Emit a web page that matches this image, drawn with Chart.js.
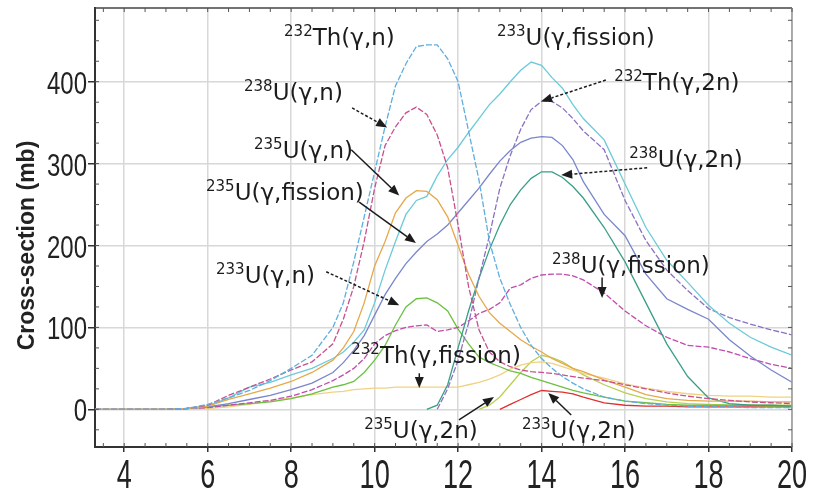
<!DOCTYPE html>
<html>
<head>
<meta charset="utf-8">
<script src="https://cdn.jsdelivr.net/npm/chart.js@4.4.1/dist/chart.umd.min.js"></script>
<style>
  html, body { margin: 0; padding: 0; background: #fff; }
  canvas { display: block; }
</style>
</head>
<body>
<canvas id="myChart" width="814" height="494"></canvas>
<script>
// photon energy (MeV) grid shared by all curves
let energy = [3.3, 5, 5.5, 6, 6.5, 7, 7.5, 8, 8.5, 9,
  9.25, 9.5, 9.75, 10, 10.25, 10.5, 10.75, 11, 11.25, 11.5,
  11.75, 12, 12.25, 12.5, 12.75, 13, 13.25, 13.5, 13.75, 14,
  14.25, 14.5, 14.75, 15, 15.5, 16, 16.5, 17, 17.5, 18,
  18.5, 19, 19.5, 20];

// cross-sections (mb), null = below threshold
let th232N = [0,0,1,6,14,23,35,50,66,100, 130,180,235,290,345,395,422,443,445,445,
  428,400,340,280,205,160,128,100,78,62, 50,40,32,25,15,10,7,5,4,3, 3,2,2,2];
let u238N = [0,0,1,5,17,27,37,48,58,80, 110,150,205,270,322,345,362,369,360,335,
  295,225,150,97,70,58,52,48,46,45, 44,42,40,38,35,30,25,20,16,13, 11,9,8,7];
let u235N = [0,0,1,4,12,19,26,34,45,60, 75,95,130,175,205,240,258,267,266,256,
  235,200,165,138,118,105,95,85,77,70, 62,56,50,46,36,27,18,13,11,10, 10,10,9,9];
let u233Fis = [0,0,1,4,14,27,33,42,50,62, 70,82,97,130,170,205,238,255,260,285,
  305,320,338,355,372,385,400,414,424,420, 405,392,372,355,329,275,222,182,155,127, 105,88,76,66];
let u235Fis = [0,0,1,3,7,12,17,24,32,45, 57,72,90,115,140,160,178,192,205,214,
  225,240,255,270,287,303,316,326,331,333, 332,322,305,278,238,212,165,135,122,110, 85,65,48,33];
let th232TwoN = [null,null,null,null,null,null,null,null,null,null, null,null,null,null,null,null,null,null,null,0,
  25,60,105,160,212,270,310,342,366,376, 376,368,355,340,317,255,206,170,145,123, 112,104,97,91];
let u238TwoN = [null,null,null,null,null,null,null,null,null,null, null,null,null,null,null,null,null,null,0,5,
  30,75,120,160,195,225,250,268,282,290, 290,283,272,258,222,180,130,80,40,14, 7,5,5,4];
let u238Fis = [0,0,1,2,5,8,11,16,24,35, 42,50,62,80,90,96,100,102,103,95,
  97,100,108,117,122,130,148,152,160,164, 165,165,163,158,142,120,102,88,78,76, 70,62,55,50];
let u233N = [0,0,1,3,5,7,9,13,19,27, 30,34,45,60,78,103,125,135,136,130,
  120,98,80,64,57,52,47,44,39,35, 31,27,23,20,15,10,8,6,5,5, 5,5,4,4];
let th232Fis = [0,0,0,1,3,6,10,14,18,21, 22,24,25,26,26,27,27,27,27,27,
  27,27,30,33,37,42,49,54,57,58, 56,52,48,44,38,31,26,22,19,17, 16,16,15,15];
let u235TwoN = [null,null,null,null,null,null,null,null,null,null, null,null,null,null,null,null,null,null,null,null,
  null,null,null,0,5,15,30,45,58,66, 63,58,50,42,30,20,13,9,7,6, 5,5,5,5];
let u233TwoN = [null,null,null,null,null,null,null,null,null,null, null,null,null,null,null,null,null,null,null,null,
  null,null,null,null,null,0,6,12,18,23, 22,21,19,15,8,5,4,4,3,3, 3,3,3,3];

let xTicks = [4, 6, 8, 10, 12, 14, 16, 18, 20];
let yTicks = [0, 100, 200, 300, 400];
let yTitle = "Cross-section (mb)";

let series = [
  { name: "232Th(γ,n)", values: th232N, color: "#5eaee0", dash: [6, 2] },
  { name: "238U(γ,n)", values: u238N, color: "#c8508e", dash: [6, 2] },
  { name: "235U(γ,n)", values: u235N, color: "#e6a84a", dash: [] },
  { name: "233U(γ,fission)", values: u233Fis, color: "#6ccad8", dash: [] },
  { name: "235U(γ,fission)", values: u235Fis, color: "#7a86cc", dash: [] },
  { name: "232Th(γ,2n)", values: th232TwoN, color: "#8a72c0", dash: [6, 2] },
  { name: "238U(γ,2n)", values: u238TwoN, color: "#3a9e88", dash: [] },
  { name: "238U(γ,fission)", values: u238Fis, color: "#c04cae", dash: [6, 2] },
  { name: "233U(γ,n)", values: u233N, color: "#6cc040", dash: [] },
  { name: "232Th(γ,fission)", values: th232Fis, color: "#f0d282", dash: [] },
  { name: "235U(γ,2n)", values: u235TwoN, color: "#b8d050", dash: [] },
  { name: "233U(γ,2n)", values: u233TwoN, color: "#e03030", dash: [] }
];

// labels on the plot: superscript mass number, reaction text, optional arrow
let notes = [
  { sup: "232", text: "Th(γ,n)", at: [7.83, 445] },
  { sup: "233", text: "U(γ,fission)", at: [12.93, 445] },
  { sup: "238", text: "U(γ,n)", at: [6.87, 378], from: [9.46, 368], to: [10.30, 344], dash: true },
  { sup: "235", text: "U(γ,n)", at: [7.11, 307], from: [9.44, 317], to: [10.59, 261] },
  { sup: "235", text: "U(γ,fission)", at: [5.96, 256], from: [9.63, 253], to: [10.99, 203] },
  { sup: "233", text: "U(γ,n)", at: [6.20, 154], from: [8.84, 168], to: [10.59, 127], dash: true },
  { sup: "232", text: "Th(γ,fission)", at: [9.44, 57], from: [11.07, 44], to: [11.07, 26] },
  { sup: "235", text: "U(γ,2n)", at: [9.75, -35], from: [12.02, -13], to: [12.86, 15] },
  { sup: "233", text: "U(γ,2n)", at: [13.53, -35], from: [14.71, -7], to: [14.16, 20] },
  { sup: "232", text: "Th(γ,2n)", at: [15.74, 390], from: [15.54, 402], to: [13.99, 376], dash: true },
  { sup: "238", text: "U(γ,2n)", at: [16.1, 296], from: [16.53, 295], to: [14.47, 286], dash: true },
  { sup: "238", text: "U(γ,fission)", at: [14.25, 166], from: [15.45, 161], to: [15.45, 136] }
];

function drawArrow(c, x0, y0, x1, y1, dashed) {
  let ang = Math.atan2(y1 - y0, x1 - x0);
  let len = 11, half = 4.5;
  c.setLineDash(dashed ? [3, 2] : []);
  c.beginPath();
  c.moveTo(x0, y0);
  c.lineTo(x1 - len * Math.cos(ang), y1 - len * Math.sin(ang));
  c.stroke();
  c.setLineDash([]);
  c.beginPath();
  c.moveTo(x1, y1);
  c.lineTo(x1 - len * Math.cos(ang) + half * Math.sin(ang), y1 - len * Math.sin(ang) - half * Math.cos(ang));
  c.lineTo(x1 - len * Math.cos(ang) - half * Math.sin(ang), y1 - len * Math.sin(ang) + half * Math.cos(ang));
  c.closePath();
  c.fill();
}

// narrow tick numbers: Arial-like glyphs squeezed sideways
function squeezedText(c, str, px, py, sx, align, base) {
  c.save();
  c.translate(px, py);
  c.scale(sx, 1);
  c.textAlign = align;
  c.textBaseline = base;
  c.fillText(str, 0, 0);
  c.restore();
}

let decor = {
  id: "decor",
  afterDatasetsDraw(chart) {
    let c = chart.ctx;
    let a = chart.chartArea;
    let x = chart.scales.x, y = chart.scales.y;
    c.save();

    // frame top / right
    c.strokeStyle = "#444";
    c.lineWidth = 1.5;
    c.beginPath();
    c.moveTo(a.left, a.top); c.lineTo(a.right, a.top);
    c.stroke();
    c.strokeStyle = "#999";
    c.beginPath();
    c.moveTo(a.right, a.top); c.lineTo(a.right, a.bottom);
    c.stroke();

    // minor ticks, inside the frame
    c.strokeStyle = "#555";
    c.lineWidth = 1;
    c.beginPath();
    for (let v = 3.5; v <= 20; v += 0.5) {
      let px = x.getPixelForValue(v);
      c.moveTo(px, a.bottom); c.lineTo(px, a.bottom - 4);
      c.moveTo(px, a.top); c.lineTo(px, a.top + 4);
    }
    for (let v = -25; v <= 475; v += 25) {
      let py = y.getPixelForValue(v);
      c.moveTo(a.left, py); c.lineTo(a.left + 4, py);
      c.moveTo(a.right, py); c.lineTo(a.right - 4, py);
    }
    c.stroke();

    // tick numbers
    c.fillStyle = "#222";
    c.font = "32px 'Liberation Sans', Arial, sans-serif";
    yTicks.forEach(v => {
      squeezedText(c, String(v), a.left - 8, y.getPixelForValue(v) + 12, 0.75, "right", "alphabetic");
    });
    c.font = "41px 'Liberation Sans', Arial, sans-serif";
    xTicks.forEach(v => {
      squeezedText(c, String(v), x.getPixelForValue(v), a.bottom + 41, 0.66, "center", "alphabetic");
    });

    // y axis title
    c.save();
    c.translate(28, (a.top + a.bottom) / 2 + 18);
    c.rotate(-Math.PI / 2);
    c.font = "bold 23px 'Liberation Sans', Arial, sans-serif";
    c.fillStyle = "#222";
    c.textAlign = "center";
    c.textBaseline = "middle";
    c.fillText(yTitle, 0, 0);
    c.restore();

    // labels and arrows
    c.fillStyle = "#1c1c1c";
    c.strokeStyle = "#1c1c1c";
    c.lineWidth = 1.5;
    c.textAlign = "left";
    c.textBaseline = "alphabetic";
    notes.forEach(n => {
      let px = x.getPixelForValue(n.at[0]);
      let py = y.getPixelForValue(n.at[1]);
      c.font = "15px 'DejaVu Sans', sans-serif";
      c.fillText(n.sup, px, py - 9);
      let w = c.measureText(n.sup).width;
      c.font = "23px 'DejaVu Sans', sans-serif";
      c.fillText(n.text, px + w, py);
      if (n.from) {
        drawArrow(c,
          x.getPixelForValue(n.from[0]), y.getPixelForValue(n.from[1]),
          x.getPixelForValue(n.to[0]), y.getPixelForValue(n.to[1]), n.dash);
      }
    });
    c.restore();
  }
};

let ctx = document.getElementById("myChart").getContext("2d");

let chart = new Chart(ctx, {
  type: "line",
  data: {
    datasets: series.map(s => ({
      label: s.name,
      data: energy.map((e, i) => ({ x: e, y: s.values[i] })),
      borderColor: s.color,
      backgroundColor: s.color,
      borderWidth: 1.3,
      borderDash: s.dash,
      pointRadius: 0,
      tension: 0,
      spanGaps: false,
      fill: false
    }))
  },
  options: {
    responsive: false,
    animation: false,
    layout: { padding: { top: 8, right: 22, left: 0, bottom: 0 } },
    plugins: {
      legend: { display: false },
      tooltip: { enabled: false }
    },
    scales: {
      x: {
        type: "linear",
        min: 3.3,
        max: 20,
        afterBuildTicks: s => { s.ticks = xTicks.map(v => ({ value: v })); },
        afterFit: s => { s.height = 47; },
        grid: { color: "#d8d8d8", lineWidth: 1.5, tickLength: 5, tickColor: "#333" },
        border: { color: "#333", width: 2 },
        ticks: { display: false }
      },
      y: {
        type: "linear",
        min: -46,
        max: 490,
        afterBuildTicks: s => { s.ticks = yTicks.map(v => ({ value: v })); },
        afterFit: s => { s.width = 95; },
        grid: { color: "#d8d8d8", lineWidth: 1.5, tickLength: 7, tickColor: "#333" },
        border: { color: "#333", width: 2 },
        ticks: { display: false }
      }
    }
  },
  plugins: [decor]
});
</script>
</body>
</html>
